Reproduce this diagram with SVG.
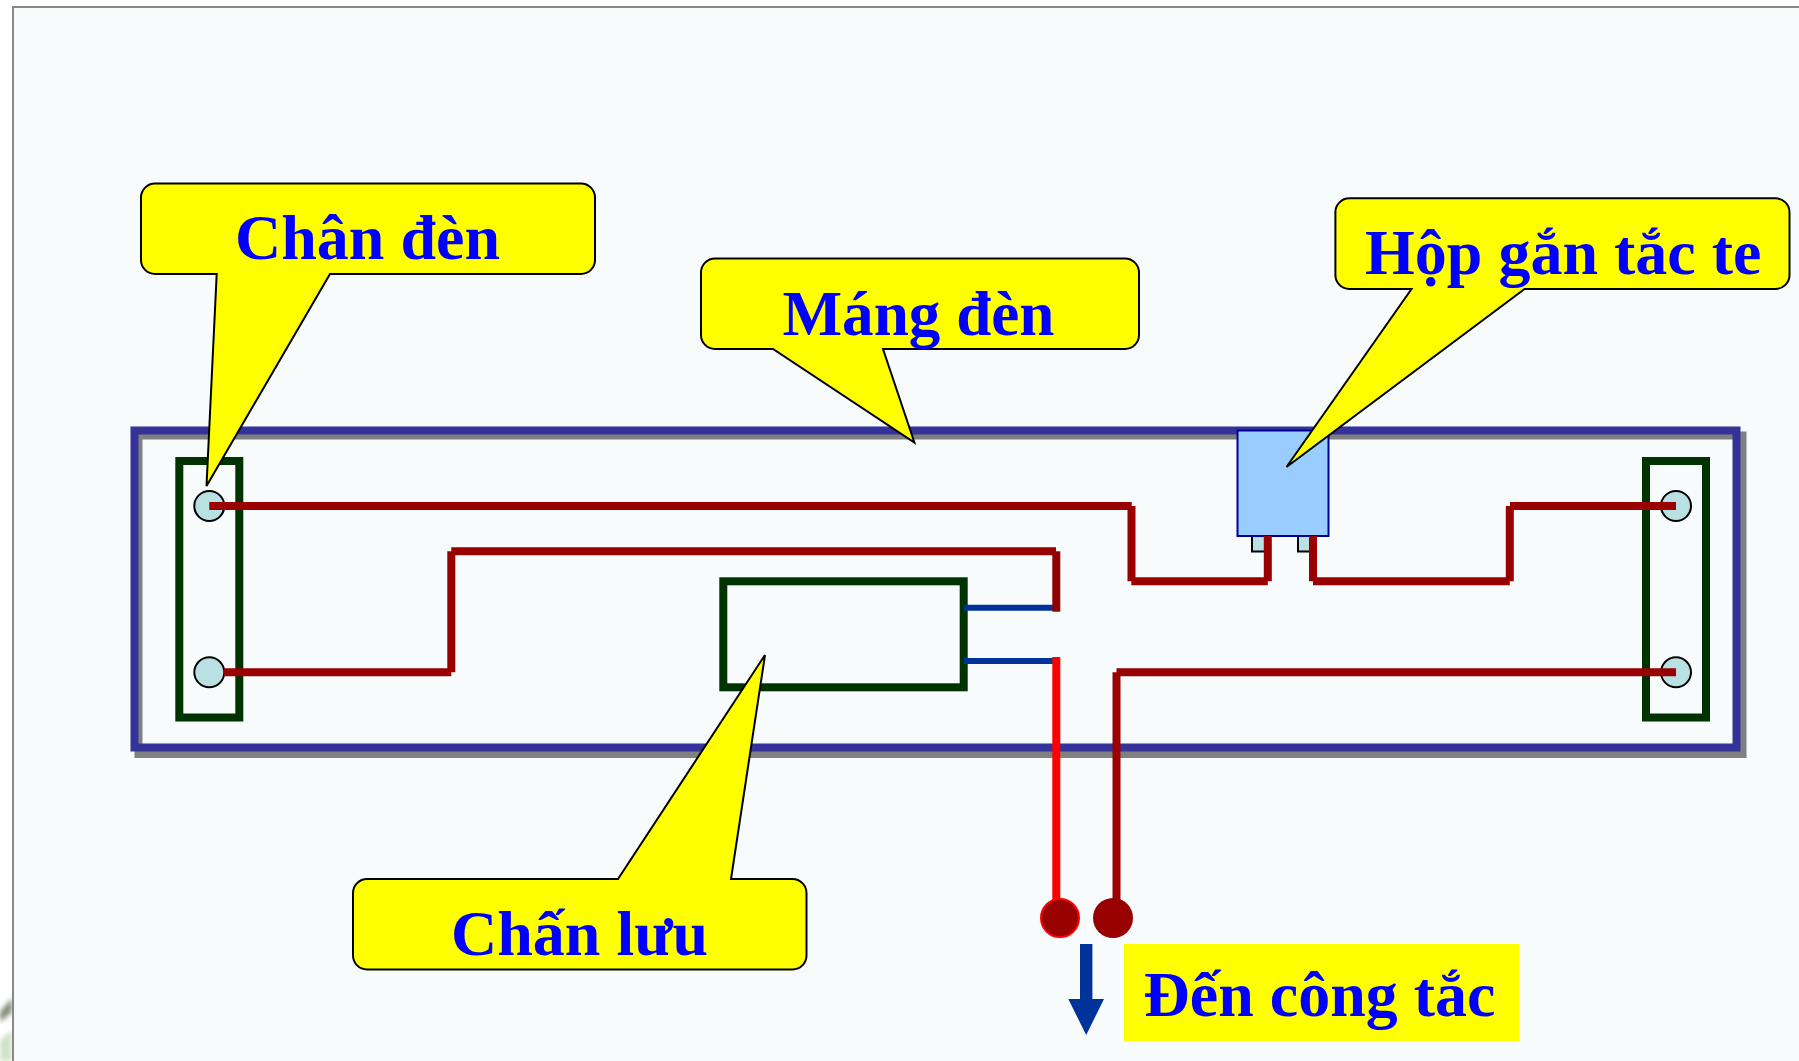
<svg xmlns="http://www.w3.org/2000/svg" width="1799" height="1061" viewBox="0 0 1799 1061">
<style>
.callout{fill:#ffff00;stroke:#000;stroke-width:2;stroke-linejoin:miter}
.lbl{font-family:"Liberation Serif","Times New Roman",serif;font-weight:bold;font-size:64px;fill:#0000ff}
.sock{fill:none;stroke:#003300;stroke-width:8}
.pin{fill:#b9e0e3;stroke:#000;stroke-width:2}
.w{fill:none;stroke:#990000;stroke-width:8}
.b{fill:none;stroke:#003399;stroke-width:6}
</style>
<defs><filter id="blur"><feGaussianBlur stdDeviation="2.5"/></filter></defs>
<rect width="1799" height="1061" fill="#fff"/>
<g id="corner-photo" filter="url(#blur)">
<polygon points="0,1012 12,998 12,1012 0,1022" fill="#7f8a72"/>
<polygon points="0,1040 12,1030 12,1061 0,1061" fill="#cfe3c8"/>
</g>
<rect id="slide" x="13" y="7" width="1800" height="1070" fill="#f7fbfc" stroke="#888" stroke-width="2"/>
<g id="mang-den">
<rect x="138.500" y="435.500" width="1604" height="318.500" fill="none" stroke="#808080" stroke-width="8"/>
<rect x="134.500" y="430.500" width="1602" height="317" fill="none" stroke="#333399" stroke-width="8"/>
</g>
<g id="chan-den-trai">
<rect class="sock" x="179.300" y="461" width="60" height="256.500"/>
<circle class="pin" cx="209.300" cy="506" r="15"/>
<circle class="pin" cx="209.300" cy="672.300" r="15"/>
</g>
<g id="chan-den-phai">
<rect class="sock" x="1646" y="461" width="60" height="256.500"/>
<circle class="pin" cx="1676" cy="506" r="15"/>
<circle class="pin" cx="1676" cy="672.300" r="15"/>
</g>
<g id="chan-luu">
<rect class="sock" x="723.300" y="581.300" width="240.400" height="106"/>
</g>
<g id="hop-tac-te">
<rect class="pin" x="1252" y="530" width="18" height="21.500"/>
<rect class="pin" x="1298" y="530" width="18" height="21.500"/>
<rect x="1237.500" y="430.500" width="91" height="105.500" fill="#99ccff" stroke="#000099" stroke-width="2"/>
</g>
<g id="connectors">
<path class="b" d="M964 607.800H1053M964 661H1053"/>
<path class="w" d="M209.300 506H1131.700M1131.500 506V581.300M1131.300 581.300H1267.800M1267.800 536V581.300M1313 536V581.300M1313 581.300H1509.800M1509.800 581.300V506M1510 506H1676"/>
<path class="w" d="M224 672.300H451.300M451.300 672.300V551.300M451.300 551.300H1056"/>
<path fill="none" stroke="#900000" stroke-width="8" d="M1056.300 551.300V611.700"/>
<path fill="none" stroke="#ff0000" stroke-width="8" d="M1056.300 657V900"/>
<path class="w" d="M1116.500 672.300V900M1116.500 672.300H1676"/>
<polygon points="1080,944 1092.400,944 1092.400,999 1104,999 1086.200,1035 1068.300,999 1080,999" fill="#003399"/>
</g>
<g id="dau-noi">
<circle cx="1060" cy="918" r="19" fill="#990000" stroke="#ff0000" stroke-width="2"/>
<circle cx="1113" cy="918" r="20" fill="#990000"/>
</g>
<g id="callout-chan-den">
<path class="callout" d="M155 183.500H581A14 14 0 0 1 595 197.500V260A14 14 0 0 1 581 274H330L206.500 486L216.700 274H155A14 14 0 0 1 141 260V197.500A14 14 0 0 1 155 183.500Z"/>
<text class="lbl" x="235" y="259">Chân đèn</text>
</g>
<g id="callout-mang-den">
<path class="callout" d="M715 258.500H1125A14 14 0 0 1 1139 272.500V335A14 14 0 0 1 1125 349H883L914.400 442.500L773 349H715A14 14 0 0 1 701 335V272.500A14 14 0 0 1 715 258.500Z"/>
<text class="lbl" x="782.500" y="335" textLength="272" lengthAdjust="spacingAndGlyphs">Máng đèn</text>
</g>
<g id="callout-hop-tac-te">
<path class="callout" d="M1349.400 198.300H1775.500A14 14 0 0 1 1789.500 212.300V275A14 14 0 0 1 1775.500 289H1524.600L1286.500 467L1411.500 289H1349.400A14 14 0 0 1 1335.400 275V212.300A14 14 0 0 1 1349.400 198.300Z"/>
<text class="lbl" x="1365" y="274">Hộp gắn tắc te</text>
</g>
<g id="callout-chan-luu">
<path class="callout" d="M367 879H618L765 655L731 879H792.500A14 14 0 0 1 806.500 893V955.500A14 14 0 0 1 792.500 969.500H367A14 14 0 0 1 353 955.500V893A14 14 0 0 1 367 879Z"/>
<text class="lbl" x="451" y="955">Chấn lưu</text>
</g>
<g id="den-cong-tac">
<rect x="1124" y="944" width="395" height="97" fill="#ffff00"/>
<text class="lbl" x="1143.500" y="1016">Đến công tắc</text>
</g>
</svg>
